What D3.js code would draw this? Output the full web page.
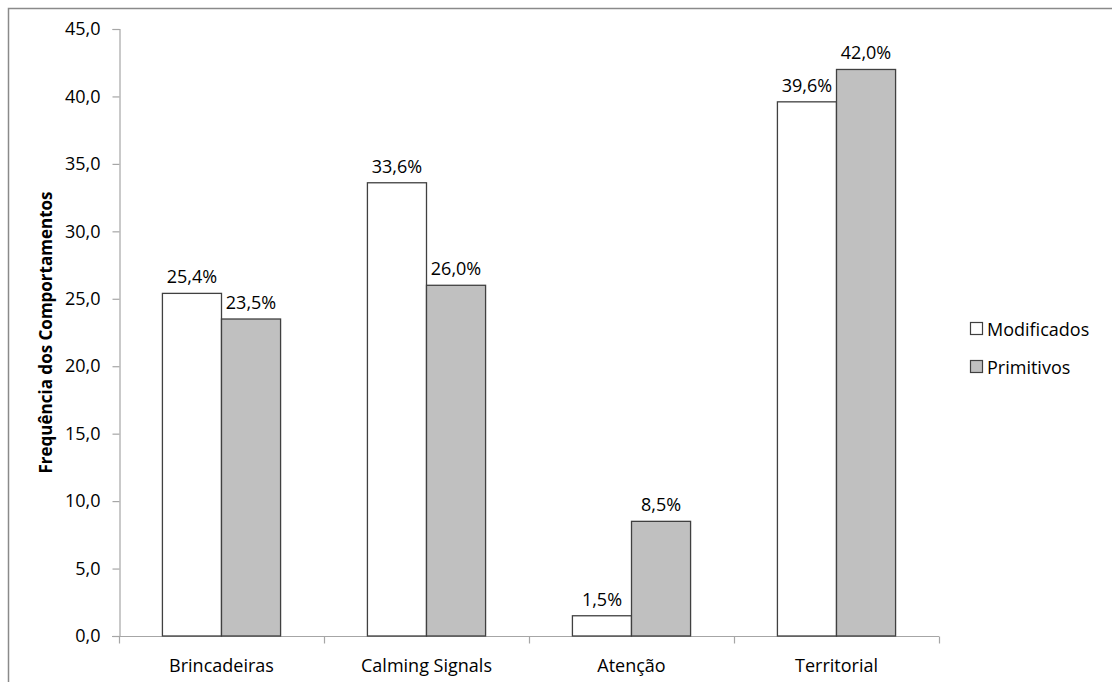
<!DOCTYPE html>
<html>
<head>
<meta charset="utf-8">
<script src="https://cdn.jsdelivr.net/npm/d3@7"></script>
<style>
  html, body { margin: 0; padding: 0; background: #fff; }
  svg { display: block; }
  text { font-family: "Open Sans", sans-serif; fill: #000; }
</style>
</head>
<body>
<svg id="chart" width="1112" height="682"></svg>
<script>
const categories = ["Brincadeiras", "Calming Signals", "Atenção", "Territorial"];
const seriesNames = ["Modificados", "Primitivos"];
const modificados = [25.4, 33.6, 1.5, 39.6];
const primitivos = [23.5, 26.0, 8.5, 42.0];
const yTicks = [0, 5, 10, 15, 20, 25, 30, 35, 40, 45];
const seriesColors = ["#ffffff", "#c0c0c0"];

const svg = d3.select("#chart");
const fmt = v => d3.format(".1f")(v).replace(".", ",");

// outer chart frame
svg.append("rect")
  .attr("x", 8.5).attr("y", 8.5)
  .attr("width", 1120).attr("height", 700)
  .attr("fill", "none").attr("stroke", "#8a8a8a").attr("stroke-width", 1.5);

const plot = { left: 119, right: 939, top: 29, bottom: 636 };

const x = d3.scaleBand().domain(categories).range([plot.left, plot.right]).paddingInner(0).paddingOuter(0);
const y = d3.scaleLinear().domain([0, 45]).range([plot.bottom, plot.top]);
const sub = d3.scaleBand().domain(seriesNames).range([0, x.bandwidth()]).paddingInner(0).paddingOuter(0.735);

const seriesData = [modificados, primitivos];

// y axis
const yAxis = svg.append("g").attr("transform", `translate(${plot.left + 0.5},0)`)
  .call(d3.axisLeft(y).tickValues(yTicks).tickSize(7).tickPadding(12).tickFormat(fmt));
yAxis.select(".domain").attr("stroke", "#a6a6a6").attr("stroke-width", 1.2);
yAxis.selectAll(".tick line").attr("stroke", "#a6a6a6").attr("stroke-width", 1.2);
yAxis.selectAll(".tick text").attr("font-size", 18).attr("font-family", "'Open Sans', sans-serif").attr("fill", "#000");

// x axis
const xAxisG = svg.append("g").attr("transform", `translate(0,${plot.bottom + 0.5})`);
xAxisG.append("line")
  .attr("x1", plot.left - 7).attr("x2", plot.right)
  .attr("stroke", "#a6a6a6").attr("stroke-width", 1.2);
const bounds = categories.map(c => x(c)).concat([plot.right]);
xAxisG.selectAll("line.tk").data(bounds).join("line").attr("class", "tk")
  .attr("x1", d => d + 0.5).attr("x2", d => d + 0.5).attr("y1", 0).attr("y2", 7)
  .attr("stroke", "#a6a6a6").attr("stroke-width", 1.2);
xAxisG.selectAll("text").data(categories).join("text")
  .attr("x", d => x(d) + x.bandwidth() / 2).attr("y", 35)
  .attr("text-anchor", "middle").attr("font-size", 18)
  .text(d => d);

// bars
seriesNames.forEach((name, si) => {
  const g = svg.append("g");
  g.selectAll("rect").data(seriesData[si]).join("rect")
    .attr("x", (d, i) => x(categories[i]) + sub(name))
    .attr("y", d => y(d))
    .attr("width", sub.bandwidth())
    .attr("height", d => y(0) - y(d))
    .attr("fill", seriesColors[si])
    .attr("stroke", "#404040").attr("stroke-width", 1.3);
  g.selectAll("text").data(seriesData[si]).join("text")
    .attr("x", (d, i) => x(categories[i]) + sub(name) + sub.bandwidth() / 2)
    .attr("y", d => y(d) - 10)
    .attr("text-anchor", "middle").attr("font-size", 18)
    .text(d => fmt(d) + "%");
});

// y axis title
svg.append("text")
  .attr("transform", `translate(52,${(plot.top + plot.bottom) / 2}) rotate(-90)`)
  .attr("text-anchor", "middle").attr("font-size", 17).attr("font-weight", "bold")
  .text("Frequência dos Comportamentos");

// legend
const legend = svg.append("g").attr("transform", "translate(970,322)");
seriesNames.forEach((name, i) => {
  const row = legend.append("g").attr("transform", `translate(0,${i * 38})`);
  row.append("rect").attr("x", 0.5).attr("y", 0.5).attr("width", 12).attr("height", 12)
    .attr("fill", seriesColors[i]).attr("stroke", "#404040").attr("stroke-width", 1.2);
  row.append("text").attr("x", 17).attr("y", 14).attr("font-size", 18).text(name);
});
</script>
</body>
</html>
